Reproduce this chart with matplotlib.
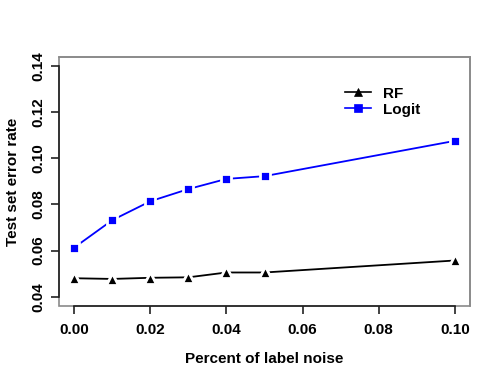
import matplotlib.pyplot as plt
from matplotlib.patches import Rectangle

plt.rcParams['font.family'] = ['Liberation Sans', 'DejaVu Sans']

noise = [0.00, 0.01, 0.02, 0.03, 0.04, 0.05, 0.10]
rf_err = [0.0480, 0.0477, 0.0482, 0.0484, 0.0505, 0.0505, 0.0557]
logit_err = [0.0613, 0.0732, 0.0814, 0.0867, 0.0911, 0.0923, 0.1076]

x_ticks = [0.00, 0.02, 0.04, 0.06, 0.08, 0.10]
y_ticks = [0.04, 0.06, 0.08, 0.10, 0.12, 0.14]


def main():
    fig = plt.figure(figsize=(5, 3.8), dpi=100)
    ax = fig.add_axes([0.118, 0.195, 0.822, 0.655])

    # lines with small gaps around the points (R type="b" look)
    ax.plot(noise, rf_err, color='black', lw=1.3, marker='^', ms=8,
            mfc='black', mec='white', mew=2.0, label='RF')
    ax.plot(noise, logit_err, color='blue', lw=1.3, marker='s', ms=7,
            mfc='blue', mec='white', mew=2.0, label='Logit')

    ax.set_xlim(-0.004, 0.104)
    ax.set_ylim(0.036, 0.144)

    # grey box plus dark axis lines between first and last tick
    for s in ax.spines.values():
        s.set_color('#8a8a8a')
        s.set_linewidth(1.2)
    ax.add_patch(Rectangle((0, 0), 1, 1, transform=ax.transAxes, fill=False,
                           ec='#8a8a8a', lw=1.2, clip_on=False, zorder=0))
    ax.spines['left'].set_bounds(y_ticks[0], y_ticks[-1])
    ax.spines['bottom'].set_bounds(x_ticks[0], x_ticks[-1])
    ax.spines['left'].set_color('#222222')
    ax.spines['bottom'].set_color('#222222')

    ax.set_xticks(x_ticks)
    ax.set_yticks(y_ticks)
    ax.set_xticklabels(['%.2f' % v for v in x_ticks], fontweight='bold', fontsize=11)
    ax.set_yticklabels(['%.2f' % v for v in y_ticks], fontweight='bold', fontsize=11,
                       rotation=90, va='center')
    ax.tick_params(direction='out', length=6, width=1.2, color='#222222')
    ax.tick_params(axis='x', pad=6)
    ax.tick_params(axis='y', pad=4)

    ax.set_xlabel('Percent of label noise', fontweight='bold', fontsize=11, labelpad=11)
    ax.set_ylabel('Test set error rate', fontweight='bold', fontsize=11, labelpad=8)

    leg = ax.legend(loc='upper left', bbox_to_anchor=(0.68, 0.905), frameon=False,
                    prop={'weight': 'bold', 'size': 11}, handlelength=1.7,
                    handletextpad=0.8, labelspacing=0.12, borderaxespad=0)
    for h in leg.legend_handles:
        h.set_markeredgecolor(h.get_color())
        h.set_markeredgewidth(0.5)
        h.set_markersize(5.5)
        h.set_linewidth(1.2)

    fig.savefig('out.png', dpi=100)


if __name__ == '__main__':
    main()
